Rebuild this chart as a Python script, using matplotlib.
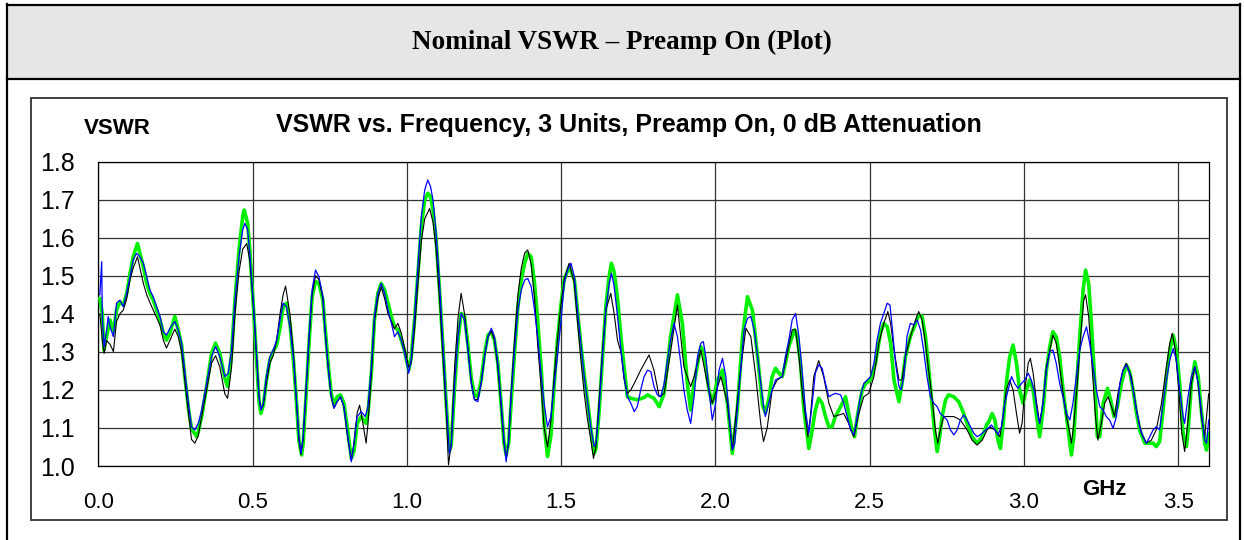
import matplotlib
matplotlib.use("Agg")
import matplotlib.pyplot as plt
from matplotlib.patches import Rectangle
from matplotlib.lines import Line2D

# ---- data (GHz, VSWR) ----
blue_x = [0.005, 0.011, 0.013, 0.019, 0.027, 0.032, 0.038, 0.049, 0.059, 0.070, 0.081, 0.092, 0.103, 0.113, 0.124,
          0.135, 0.146, 0.157, 0.167, 0.178, 0.189, 0.200, 0.211, 0.221, 0.232, 0.248, 0.259, 0.270, 0.281, 0.292,
          0.302, 0.313, 0.324, 0.335, 0.351, 0.367, 0.380, 0.394, 0.410, 0.421, 0.432, 0.443, 0.456, 0.468, 0.475,
          0.484, 0.491, 0.502, 0.513, 0.521, 0.527, 0.535, 0.545, 0.556, 0.567, 0.578, 0.589, 0.599, 0.610, 0.621,
          0.632, 0.643, 0.650, 0.657, 0.664, 0.672, 0.683, 0.693, 0.704, 0.715, 0.728,
          0.734, 0.745, 0.755, 0.764, 0.774, 0.785, 0.796, 0.809, 0.820, 0.829, 0.839, 0.852, 0.865, 0.874, 0.885,
          0.895, 0.906, 0.917, 0.928, 0.939, 0.950, 0.960, 0.971, 0.982, 0.993, 1.006, 1.014, 1.025, 1.036, 1.047,
          1.058, 1.068, 1.077, 1.085, 1.095, 1.106, 1.117, 1.128, 1.138, 1.144, 1.155, 1.166, 1.176, 1.187, 1.198,
          1.209, 1.219, 1.230, 1.241, 1.252, 1.263, 1.274, 1.284, 1.295, 1.306, 1.315, 1.322, 1.330, 1.338, 1.349,
          1.360, 1.371, 1.382, 1.392, 1.403, 1.414, 1.424, 1.436,
          1.445, 1.456, 1.467, 1.478, 1.488, 1.499, 1.510, 1.521, 1.532, 1.543, 1.553, 1.564, 1.575, 1.586, 1.596,
          1.607, 1.613, 1.623, 1.634, 1.645, 1.656, 1.663, 1.672, 1.683, 1.694, 1.704, 1.715, 1.726, 1.737, 1.747,
          1.758, 1.769, 1.780, 1.791, 1.801, 1.812, 1.823, 1.834, 1.845, 1.855, 1.866, 1.877, 1.888, 1.898, 1.909,
          1.920, 1.931, 1.942, 1.953, 1.961, 1.969, 1.979, 1.990, 2.001, 2.012, 2.023, 2.034, 2.045, 2.055, 2.063,
          2.071, 2.083, 2.093, 2.104, 2.115, 2.126, 2.137, 2.147, 2.158,
          2.162, 2.173, 2.184, 2.195, 2.206, 2.217, 2.227, 2.238, 2.249, 2.260, 2.271, 2.281, 2.292, 2.303, 2.314,
          2.324, 2.335, 2.346, 2.357, 2.368, 2.378, 2.389, 2.406, 2.416, 2.427, 2.438, 2.449, 2.460, 2.470, 2.481,
          2.492, 2.503, 2.514, 2.524, 2.535, 2.546, 2.557, 2.566, 2.573, 2.584, 2.595, 2.602, 2.611, 2.621, 2.632,
          2.643, 2.654, 2.665, 2.675, 2.686, 2.697, 2.708, 2.719, 2.729, 2.740, 2.751, 2.762, 2.773, 2.784, 2.794,
          2.805, 2.816, 2.827, 2.838, 2.848, 2.859, 2.870, 2.881,
          2.884, 2.895, 2.906, 2.916, 2.927, 2.938, 2.949, 2.960, 2.970, 2.981, 2.992, 3.003, 3.014, 3.024, 3.035,
          3.046, 3.051, 3.062, 3.073, 3.084, 3.094, 3.105, 3.116, 3.127, 3.138, 3.149, 3.159, 3.170, 3.181, 3.192,
          3.203, 3.213, 3.224, 3.235, 3.246, 3.257, 3.267, 3.278, 3.289, 3.300, 3.311, 3.321, 3.332, 3.343, 3.354,
          3.365, 3.375, 3.386, 3.397, 3.408, 3.419, 3.429, 3.440, 3.451, 3.462, 3.473, 3.484, 3.494, 3.505, 3.516,
          3.521, 3.532, 3.543, 3.554, 3.565, 3.575, 3.586, 3.592, 3.599]
blue_y = [1.45, 1.537, 1.39, 1.314, 1.358, 1.393, 1.366, 1.340, 1.428, 1.436, 1.419, 1.454, 1.498, 1.542, 1.559,
          1.550, 1.533, 1.498, 1.463, 1.445, 1.419, 1.393, 1.353, 1.344, 1.362, 1.380, 1.358, 1.323, 1.244, 1.165,
          1.103, 1.095, 1.112, 1.147, 1.217, 1.287, 1.314, 1.287, 1.235, 1.244, 1.305, 1.436, 1.550, 1.621, 1.638,
          1.621, 1.559, 1.436, 1.287, 1.182, 1.147, 1.165, 1.235, 1.287, 1.305, 1.331, 1.384, 1.428, 1.419, 1.366,
          1.287, 1.165, 1.077, 1.033, 1.077, 1.182, 1.340, 1.463, 1.515, 1.498, 1.445,
          1.366, 1.261, 1.182, 1.152, 1.169, 1.182, 1.156, 1.077, 1.011, 1.060, 1.130, 1.143, 1.130, 1.156, 1.261,
          1.393, 1.454, 1.480, 1.454, 1.410, 1.375, 1.340, 1.353, 1.331, 1.296, 1.244, 1.279, 1.393, 1.524, 1.656,
          1.726, 1.752, 1.734, 1.699, 1.612, 1.480, 1.323, 1.165, 1.033, 1.051, 1.217, 1.340, 1.401, 1.384, 1.305,
          1.217, 1.174, 1.169, 1.217, 1.287, 1.340, 1.362, 1.340, 1.270, 1.165, 1.068, 1.011, 1.068, 1.182, 1.305,
          1.410, 1.463, 1.489, 1.493, 1.472, 1.410, 1.340, 1.235,
          1.165, 1.103, 1.130, 1.217, 1.287, 1.375, 1.480, 1.515, 1.533, 1.498, 1.410, 1.323, 1.235, 1.165, 1.103,
          1.051, 1.060, 1.147, 1.287, 1.410, 1.480, 1.507, 1.472, 1.393, 1.305, 1.235, 1.182, 1.165, 1.143, 1.156,
          1.200, 1.235, 1.252, 1.248, 1.209, 1.187, 1.182, 1.217, 1.279, 1.331, 1.375, 1.340, 1.270, 1.200, 1.147,
          1.112, 1.182, 1.287, 1.323, 1.327, 1.287, 1.200, 1.121, 1.165, 1.252, 1.283, 1.235, 1.130, 1.042, 1.060,
          1.147, 1.261, 1.358, 1.388, 1.393, 1.358, 1.287, 1.217, 1.147,
          1.130, 1.165, 1.200, 1.226, 1.231, 1.235, 1.287, 1.331, 1.384, 1.401, 1.340, 1.252, 1.147, 1.086, 1.165,
          1.244, 1.266, 1.257, 1.217, 1.182, 1.187, 1.191, 1.187, 1.165, 1.130, 1.095, 1.082, 1.130, 1.182, 1.217,
          1.226, 1.235, 1.270, 1.331, 1.375, 1.401, 1.428, 1.423, 1.366, 1.270, 1.209, 1.200, 1.235, 1.340, 1.375,
          1.371, 1.384, 1.358, 1.305, 1.235, 1.182, 1.165, 1.156, 1.138, 1.130, 1.121, 1.095, 1.082, 1.095, 1.121,
          1.134, 1.121, 1.103, 1.086, 1.077, 1.082, 1.090, 1.099,
          1.099, 1.108, 1.095, 1.082, 1.103, 1.165, 1.200, 1.235, 1.217, 1.204, 1.217, 1.226, 1.244, 1.226, 1.191,
          1.130, 1.112, 1.165, 1.252, 1.301, 1.305, 1.270, 1.217, 1.182, 1.138, 1.121, 1.165, 1.235, 1.305, 1.340,
          1.366, 1.323, 1.261, 1.200, 1.156, 1.147, 1.130, 1.121, 1.099, 1.130, 1.217, 1.252, 1.266, 1.244, 1.200,
          1.147, 1.103, 1.077, 1.060, 1.077, 1.095, 1.103, 1.095, 1.165, 1.226, 1.279, 1.309, 1.279, 1.200, 1.130,
          1.112, 1.182, 1.235, 1.261, 1.217, 1.147, 1.068, 1.060, 1.121]

green_x = [0.005, 0.013, 0.018, 0.027, 0.038, 0.049, 0.059, 0.070, 0.081, 0.092, 0.103, 0.113, 0.127, 0.135, 0.146,
           0.157, 0.167, 0.178, 0.189, 0.200, 0.211, 0.221, 0.232, 0.248, 0.259, 0.270, 0.281, 0.292, 0.302, 0.319,
           0.324, 0.335, 0.351, 0.367, 0.380, 0.394, 0.410, 0.419, 0.432, 0.443, 0.456, 0.468, 0.473, 0.484, 0.491,
           0.502, 0.513, 0.521, 0.527, 0.535, 0.545, 0.556, 0.567, 0.578, 0.589, 0.599, 0.610, 0.621, 0.632, 0.643,
           0.650, 0.659, 0.664, 0.672, 0.683, 0.693, 0.704, 0.715, 0.728,
           0.734, 0.745, 0.755, 0.764, 0.774, 0.785, 0.796, 0.809, 0.820, 0.829, 0.839, 0.852, 0.868, 0.874, 0.885,
           0.895, 0.906, 0.917, 0.928, 0.939, 0.950, 0.960, 0.971, 0.982, 0.993, 1.006, 1.014, 1.025, 1.036, 1.047,
           1.058, 1.068, 1.077, 1.085, 1.095, 1.106, 1.117, 1.128, 1.138, 1.144, 1.155, 1.166, 1.176, 1.187, 1.198,
           1.209, 1.219, 1.230, 1.241, 1.252, 1.263, 1.274, 1.284, 1.295, 1.306, 1.315, 1.322, 1.330, 1.338, 1.349,
           1.360, 1.371, 1.382, 1.392, 1.403, 1.414, 1.424, 1.436,
           1.445, 1.456, 1.467, 1.478, 1.488, 1.499, 1.510, 1.526, 1.543, 1.553, 1.564, 1.575, 1.586, 1.596, 1.607,
           1.613, 1.623, 1.634, 1.645, 1.656, 1.663, 1.672, 1.683, 1.694, 1.704, 1.715, 1.726, 1.747, 1.769, 1.780,
           1.801, 1.818, 1.834, 1.855, 1.877, 1.893, 1.909, 1.920, 1.931, 1.953, 1.963, 1.979, 1.990, 2.007, 2.023,
           2.039, 2.055, 2.071, 2.088, 2.104, 2.120, 2.137, 2.153, 2.162, 2.173,
           2.184, 2.195, 2.206, 2.217, 2.227, 2.238, 2.249, 2.257, 2.265, 2.276, 2.287, 2.297, 2.303, 2.314, 2.324,
           2.335, 2.346, 2.357, 2.368, 2.378, 2.389, 2.406, 2.422, 2.432, 2.443, 2.451, 2.460, 2.476, 2.487, 2.503,
           2.519, 2.535, 2.546, 2.557, 2.568, 2.579, 2.589, 2.595, 2.605, 2.616, 2.632, 2.649, 2.659, 2.670, 2.681,
           2.691, 2.702, 2.710, 2.719, 2.727, 2.735, 2.746, 2.756, 2.773, 2.789, 2.805, 2.816, 2.832, 2.848, 2.865,
           2.881,
           2.884, 2.897, 2.906, 2.916, 2.924, 2.933, 2.943, 2.954, 2.965, 2.976, 2.986, 2.997, 3.008, 3.019, 3.030,
           3.040, 3.051, 3.062, 3.073, 3.084, 3.094, 3.105, 3.116, 3.127, 3.138, 3.149, 3.154, 3.162, 3.170, 3.181,
           3.192, 3.200, 3.210, 3.219, 3.230, 3.238, 3.246, 3.257, 3.271, 3.281, 3.292, 3.303, 3.316, 3.332, 3.343,
           3.354, 3.365, 3.375, 3.392, 3.408, 3.419, 3.429, 3.440, 3.451, 3.462, 3.473, 3.484, 3.494, 3.505, 3.516,
           3.527, 3.534, 3.543, 3.554, 3.565, 3.575, 3.586, 3.592, 3.599]
green_y = [1.44, 1.40, 1.305, 1.340, 1.384, 1.353, 1.410, 1.432, 1.423, 1.454, 1.507, 1.550, 1.585, 1.559, 1.524,
           1.480, 1.454, 1.436, 1.410, 1.384, 1.349, 1.331, 1.349, 1.393, 1.358, 1.318, 1.231, 1.152, 1.099, 1.077,
           1.090, 1.130, 1.209, 1.296, 1.323, 1.296, 1.231, 1.209, 1.296, 1.436, 1.568, 1.656, 1.673, 1.638, 1.568,
           1.428, 1.279, 1.169, 1.138, 1.160, 1.226, 1.279, 1.301, 1.318, 1.362, 1.419, 1.428, 1.375, 1.283, 1.160,
           1.068, 1.029, 1.060, 1.165, 1.323, 1.445, 1.485, 1.480, 1.436,
           1.375, 1.270, 1.191, 1.160, 1.182, 1.187, 1.165, 1.090, 1.020, 1.040, 1.112, 1.130, 1.112, 1.138, 1.244,
           1.384, 1.454, 1.480, 1.463, 1.428, 1.393, 1.366, 1.358, 1.331, 1.301, 1.252, 1.283, 1.384, 1.507, 1.630,
           1.699, 1.717, 1.708, 1.673, 1.595, 1.463, 1.314, 1.160, 1.040, 1.055, 1.209, 1.331, 1.401, 1.393, 1.318,
           1.231, 1.187, 1.182, 1.226, 1.296, 1.344, 1.353, 1.331, 1.270, 1.160, 1.060, 1.029, 1.060, 1.165, 1.296,
           1.419, 1.489, 1.533, 1.559, 1.550, 1.480, 1.384, 1.252,
           1.110, 1.025, 1.080, 1.217, 1.330, 1.420, 1.490, 1.524, 1.490, 1.410, 1.320, 1.240, 1.170, 1.100, 1.033,
           1.045, 1.140, 1.280, 1.420, 1.500, 1.533, 1.510, 1.440, 1.340, 1.260, 1.182, 1.178, 1.174, 1.180, 1.187,
           1.178, 1.156, 1.191, 1.340, 1.450, 1.375, 1.217, 1.147, 1.217, 1.314, 1.296, 1.200, 1.165, 1.226, 1.252,
           1.165, 1.033, 1.147, 1.340, 1.445, 1.410, 1.287, 1.160, 1.140, 1.175,
           1.235, 1.257, 1.244, 1.235, 1.270, 1.314, 1.340, 1.358, 1.340, 1.270, 1.147, 1.086, 1.046, 1.095, 1.147,
           1.178, 1.165, 1.130, 1.103, 1.103, 1.130, 1.156, 1.182, 1.138, 1.095, 1.077, 1.130, 1.200, 1.217, 1.226,
           1.270, 1.349, 1.375, 1.366, 1.323, 1.226, 1.191, 1.169, 1.217, 1.287, 1.340, 1.375, 1.397, 1.393, 1.340,
           1.261, 1.165, 1.095, 1.038, 1.077, 1.130, 1.174, 1.187, 1.182, 1.169, 1.138, 1.112, 1.077, 1.060, 1.077,
           1.112,
           1.112, 1.138, 1.121, 1.068, 1.046, 1.112, 1.217, 1.287, 1.318, 1.270, 1.200, 1.165, 1.200, 1.226, 1.200,
           1.138, 1.077, 1.147, 1.252, 1.314, 1.353, 1.340, 1.287, 1.200, 1.130, 1.060, 1.029, 1.077, 1.200, 1.340,
           1.463, 1.515, 1.480, 1.375, 1.217, 1.077, 1.077, 1.165, 1.204, 1.174, 1.130, 1.156, 1.217, 1.266, 1.248,
           1.200, 1.138, 1.095, 1.060, 1.060, 1.060, 1.051, 1.064, 1.147, 1.235, 1.305, 1.344, 1.305, 1.217, 1.086,
           1.051, 1.112, 1.217, 1.274, 1.235, 1.147, 1.060, 1.042, 1.086]

black_x = [0.005, 0.013, 0.019, 0.027, 0.038, 0.049, 0.059, 0.070, 0.081, 0.092, 0.103, 0.113, 0.127, 0.135, 0.146,
           0.157, 0.167, 0.178, 0.189, 0.200, 0.211, 0.221, 0.232, 0.248, 0.259, 0.270, 0.281, 0.292, 0.302, 0.313,
           0.324, 0.335, 0.351, 0.367, 0.380, 0.394, 0.410, 0.419, 0.432, 0.443, 0.456, 0.468, 0.481, 0.491, 0.502,
           0.513, 0.521, 0.527, 0.535, 0.545, 0.556, 0.567, 0.578, 0.589, 0.599, 0.607, 0.621, 0.632, 0.643, 0.650,
           0.657, 0.664, 0.672, 0.683, 0.693, 0.704, 0.715, 0.728,
           0.734, 0.745, 0.755, 0.764, 0.774, 0.785, 0.796, 0.809, 0.820, 0.829, 0.839, 0.847, 0.856, 0.868, 0.874,
           0.885, 0.895, 0.906, 0.917, 0.928, 0.939, 0.950, 0.960, 0.971, 0.982, 0.993, 1.006, 1.014, 1.025, 1.036,
           1.047, 1.058, 1.074, 1.085, 1.095, 1.106, 1.117, 1.128, 1.135, 1.144, 1.155, 1.166, 1.176, 1.187, 1.198,
           1.209, 1.219, 1.230, 1.241, 1.252, 1.263, 1.274, 1.284, 1.295, 1.306, 1.315, 1.322, 1.330, 1.338, 1.349,
           1.360, 1.371, 1.382, 1.392, 1.403, 1.414, 1.424, 1.436,
           1.445, 1.456, 1.467, 1.478, 1.488, 1.499, 1.510, 1.526, 1.543, 1.553, 1.564, 1.575, 1.586, 1.596, 1.605,
           1.613, 1.623, 1.634, 1.645, 1.661, 1.672, 1.683, 1.694, 1.704, 1.715, 1.726, 1.737, 1.758, 1.785, 1.801,
           1.818, 1.834, 1.855, 1.877, 1.898, 1.920, 1.931, 1.953, 1.974, 1.990, 2.018, 2.039, 2.055, 2.083, 2.099,
           2.115, 2.131, 2.147, 2.156, 2.168,
           2.184, 2.200, 2.217, 2.233, 2.249, 2.260, 2.271, 2.281, 2.292, 2.300, 2.308, 2.319, 2.335, 2.351, 2.368,
           2.384, 2.400, 2.416, 2.432, 2.449, 2.465, 2.481, 2.497, 2.514, 2.530, 2.546, 2.559, 2.568, 2.579, 2.595,
           2.605, 2.616, 2.632, 2.649, 2.659, 2.670, 2.681, 2.691, 2.702, 2.713, 2.721, 2.729, 2.740, 2.756, 2.773,
           2.794, 2.816, 2.832, 2.848, 2.865, 2.881,
           2.889, 2.906, 2.922, 2.933, 2.943, 2.954, 2.965, 2.976, 2.986, 2.994, 3.003, 3.014, 3.021, 3.030, 3.040,
           3.051, 3.062, 3.073, 3.084, 3.094, 3.105, 3.116, 3.127, 3.138, 3.149, 3.154, 3.162, 3.173, 3.184, 3.194,
           3.200, 3.210, 3.221, 3.232, 3.240, 3.251, 3.262, 3.273, 3.284, 3.294, 3.305, 3.321, 3.332, 3.348, 3.365,
           3.381, 3.397, 3.413, 3.429, 3.446, 3.462, 3.473, 3.481, 3.491, 3.502, 3.512, 3.521, 3.530, 3.543, 3.554,
           3.565, 3.575, 3.586, 3.599]
black_y = [1.40, 1.33, 1.296, 1.33, 1.32, 1.301, 1.38, 1.40, 1.41, 1.44, 1.49, 1.52, 1.550, 1.520, 1.480,
           1.450, 1.430, 1.410, 1.390, 1.370, 1.330, 1.310, 1.330, 1.360, 1.340, 1.300, 1.220, 1.140, 1.070, 1.060,
           1.080, 1.130, 1.200, 1.270, 1.290, 1.260, 1.190, 1.178, 1.260, 1.400, 1.510, 1.570, 1.585, 1.540, 1.430,
           1.290, 1.180, 1.150, 1.160, 1.220, 1.270, 1.290, 1.330, 1.400, 1.450, 1.473, 1.400, 1.300, 1.160, 1.070,
           1.030, 1.070, 1.180, 1.330, 1.450, 1.500, 1.490, 1.440,
           1.366, 1.261, 1.182, 1.152, 1.169, 1.182, 1.156, 1.070, 1.016, 1.060, 1.140, 1.160, 1.120, 1.060, 1.110,
           1.240, 1.380, 1.440, 1.470, 1.440, 1.400, 1.380, 1.360, 1.375, 1.350, 1.310, 1.260, 1.270, 1.360, 1.480,
           1.590, 1.650, 1.677, 1.640, 1.570, 1.440, 1.290, 1.140, 1.003, 1.060, 1.260, 1.390, 1.454, 1.400, 1.310,
           1.220, 1.175, 1.175, 1.220, 1.290, 1.340, 1.355, 1.330, 1.260, 1.150, 1.060, 1.020, 1.060, 1.190, 1.330,
           1.450, 1.520, 1.560, 1.568, 1.530, 1.440, 1.320, 1.200,
           1.100, 1.050, 1.120, 1.240, 1.330, 1.420, 1.490, 1.533, 1.480, 1.380, 1.280, 1.190, 1.120, 1.070, 1.020,
           1.050, 1.170, 1.300, 1.410, 1.454, 1.400, 1.330, 1.300, 1.230, 1.191, 1.200, 1.217, 1.252, 1.292, 1.252,
           1.182, 1.191, 1.300, 1.423, 1.261, 1.209, 1.235, 1.305, 1.217, 1.165, 1.235, 1.165, 1.042, 1.261, 1.362,
           1.340, 1.235, 1.112, 1.064, 1.100,
           1.200, 1.226, 1.235, 1.296, 1.358, 1.358, 1.287, 1.200, 1.130, 1.077, 1.130, 1.235, 1.277, 1.235, 1.165,
           1.130, 1.134, 1.138, 1.112, 1.077, 1.138, 1.182, 1.191, 1.235, 1.323, 1.375, 1.406, 1.375, 1.305, 1.226,
           1.226, 1.287, 1.340, 1.384, 1.406, 1.384, 1.323, 1.252, 1.182, 1.095, 1.060, 1.095, 1.130, 1.130, 1.130,
           1.121, 1.095, 1.068, 1.055, 1.068, 1.095,
           1.103, 1.095, 1.077, 1.130, 1.200, 1.226, 1.200, 1.138, 1.086, 1.112, 1.200, 1.270, 1.283, 1.244, 1.174,
           1.112, 1.165, 1.261, 1.305, 1.344, 1.323, 1.261, 1.191, 1.130, 1.086, 1.060, 1.112, 1.217, 1.340, 1.436,
           1.450, 1.393, 1.261, 1.130, 1.068, 1.112, 1.165, 1.182, 1.156, 1.130, 1.191, 1.252, 1.270, 1.235, 1.147,
           1.086, 1.060, 1.068, 1.095, 1.165, 1.261, 1.323, 1.349, 1.305, 1.200, 1.086, 1.038, 1.103, 1.217, 1.261,
           1.217, 1.130, 1.077, 1.190]

x_ticks = [0.0, 0.5, 1.0, 1.5, 2.0, 2.5, 3.0, 3.5]
y_ticks = [1.0, 1.1, 1.2, 1.3, 1.4, 1.5, 1.6, 1.7, 1.8]

header_text = "Nominal VSWR \u2013 Preamp On (Plot)"
chart_title = "VSWR vs. Frequency, 3 Units, Preamp On, 0 dB Attenuation"

W, H = 1244, 540


def fx(px):
    return px / W


def fy(py):
    return 1 - py / H


fig = plt.figure(figsize=(W / 100, H / 100), dpi=100)
fig.patch.set_facecolor("white")

# header band and outer table frame
fig.add_artist(Rectangle((fx(7), fy(79)), fx(1240) - fx(7), fy(5) - fy(79),
                         facecolor="#e6e6e6", edgecolor="none", transform=fig.transFigure))
for xs, ys in [([7, 7], [4, 540]), ([1240, 1240], [4, 540]),
               ([7, 1240], [5, 5]), ([7, 1240], [79, 79])]:
    fig.add_artist(Line2D([fx(v) for v in xs], [fy(v) for v in ys], color="black",
                          lw=1.6, transform=fig.transFigure))
fig.text(fx(622), fy(42), header_text, ha="center", va="center", fontsize=19.5,
         fontweight="bold", family="Liberation Serif")

# chart frame
fig.add_artist(Rectangle((fx(30.5), fy(520)), fx(1227) - fx(30.5), fy(98) - fy(520),
                         facecolor="none", edgecolor="#333333", lw=1.3, transform=fig.transFigure))

ax = fig.add_axes([fx(98.3), fy(466), fx(1209) - fx(98.3), fy(161.7) - fy(466)])
ax.plot(green_x, green_y, color="#00f000", lw=2.6, zorder=3)
ax.plot(black_x, black_y, color="black", lw=0.8, zorder=4)
ax.plot(blue_x, blue_y, color="#0000ff", lw=0.9, zorder=5)

ax.set_xlim(0, 3.6)
ax.set_ylim(1.0, 1.8)
ax.set_xticks(x_ticks)
ax.set_yticks(y_ticks)
ax.set_xticklabels([f"{v:.1f}" for v in x_ticks])
ax.set_yticklabels([f"{v:.1f}" for v in y_ticks])
ax.tick_params(axis="x", length=0, pad=19, labelsize=16)
ax.tick_params(axis="y", length=0, pad=17, labelsize=18)
ax.grid(True, color="#333333", lw=0.9)
ax.set_axisbelow(True)
for s in ax.spines.values():
    s.set_linewidth(0.9)
    s.set_color("black")

fig.text(fx(117), fy(134), "VSWR", ha="center", va="baseline", fontsize=16,
         fontweight="bold", family="Liberation Sans")
fig.text(fx(629), fy(132.3), chart_title, ha="center", va="baseline", fontsize=18,
         fontweight="bold", family="Liberation Sans")
fig.text(fx(1104), fy(495), "GHz", ha="center", va="baseline", fontsize=16,
         fontweight="bold", family="Liberation Sans")

for lab in ax.get_xticklabels() + ax.get_yticklabels():
    lab.set_family("Liberation Sans")

fig.savefig("out.png", dpi=100)
